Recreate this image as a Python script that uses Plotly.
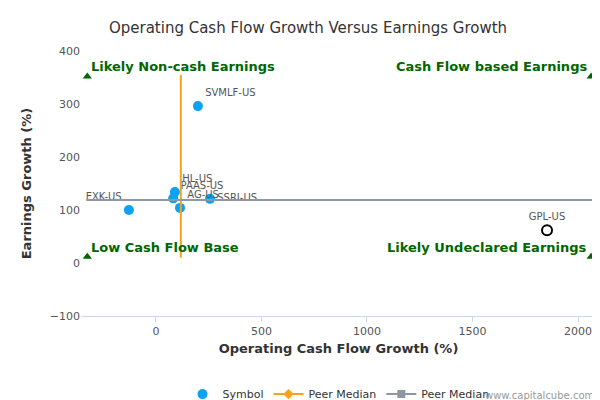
import plotly.graph_objects as go

names = ["SVMLF-US", "HL-US", "PAAS-US", "AG-US", "SSRI-US", "EXK-US"]
cf_growth = [199, 90, 82, 114, 256, -128]
eg_growth = [296, 134, 122, 104, 121, 100]
out_name = ["GPL-US"]
out_cf = [1853]
out_eg = [62]
median_x = 118
median_y = 119
med_v_y = [10, 355]
med_h_x = [-330, 2090]
quad_labels = ["Likely Non-cash Earnings", "Cash Flow based Earnings", "Low Cash Flow Base", "Likely Undeclared Earnings"]
quad_x = [-325, 2062, -325, 2062]
quad_y = [352, 352, 12, 12]

fig = go.Figure()
fig.add_trace(go.Scatter(x=cf_growth, y=eg_growth, mode="markers+text", text=names,
    textposition=["top right", "top right", "top right", "top right", "middle right", "top left"],
    textfont=dict(size=10, color="#555"), marker=dict(color="#0ca2f2", size=10),
    name="Symbol", cliponaxis=False))
fig.add_trace(go.Scatter(x=out_cf, y=out_eg, mode="markers+text", text=out_name,
    textposition="top center", textfont=dict(size=10, color="#555"),
    marker=dict(color="white", size=10, line=dict(color="black", width=2)), showlegend=False))
fig.add_trace(go.Scatter(x=[median_x, median_x], y=med_v_y, mode="lines",
    line=dict(color="#f7a21b", width=2), showlegend=False))
fig.add_trace(go.Scatter(x=med_h_x, y=[median_y, median_y], mode="lines",
    line=dict(color="#8f97a4", width=2), showlegend=False))
fig.add_trace(go.Scatter(x=[None], y=[None], mode="lines+markers", name="Peer Median",
    line=dict(color="#f7a21b", width=2), marker=dict(symbol="diamond", size=8, color="#f7a21b")))
fig.add_trace(go.Scatter(x=[None], y=[None], mode="lines+markers", name="Peer Median",
    line=dict(color="#8f97a4", width=2), marker=dict(symbol="square", size=8, color="#8f97a4")))
fig.add_trace(go.Scatter(x=quad_x, y=quad_y, mode="markers", marker=dict(symbol="triangle-up", color="#006600", size=8),
    showlegend=False, cliponaxis=False))
for i, t in enumerate(quad_labels):
    left = quad_x[i] < 0
    fig.add_annotation(x=quad_x[i], y=quad_y[i], text="<b>" + t + "</b>", showarrow=False,
        xanchor="left" if left else "right", yanchor="bottom", xshift=2 if left else -2, yshift=0,
        font=dict(size=13, color="#006600"))
fig.update_layout(
    width=600, height=400, plot_bgcolor="white", paper_bgcolor="white",
    font=dict(family="DejaVu Sans", size=11, color="#555"),
    title=dict(text="Operating Cash Flow Growth Versus Earnings Growth", x=0.5, y=0.965, xanchor="center",
               font=dict(size=15, color="#333")),
    margin=dict(l=73, r=12, t=43, b=92, autoexpand=False),
    xaxis=dict(range=[-355, 2085], tickvals=[0, 500, 1000, 1500, 2000], showgrid=False, zeroline=False,
               showline=True, linecolor="#ccd6eb", ticks="outside", tickcolor="#ccd6eb",
               title=dict(text="<b>Operating Cash Flow Growth (%)</b>", font=dict(size=13, color="#333"), standoff=6)),
    yaxis=dict(range=[-100, 400], tickvals=[-100, 0, 100, 200, 300, 400], showgrid=False, zeroline=False,
               title=dict(text="<b>Earnings Growth (%)</b>", font=dict(size=13, color="#333"))),
    legend=dict(orientation="h", x=0.5, xanchor="center", y=-0.24, font=dict(size=11, color="#333")),
)
fig.add_annotation(text="www.capitalcube.com", xref="paper", yref="paper", x=1.0, y=-0.33, showarrow=False,
    xanchor="right", font=dict(size=10, color="#999"))
fig.write_html("out.html")
